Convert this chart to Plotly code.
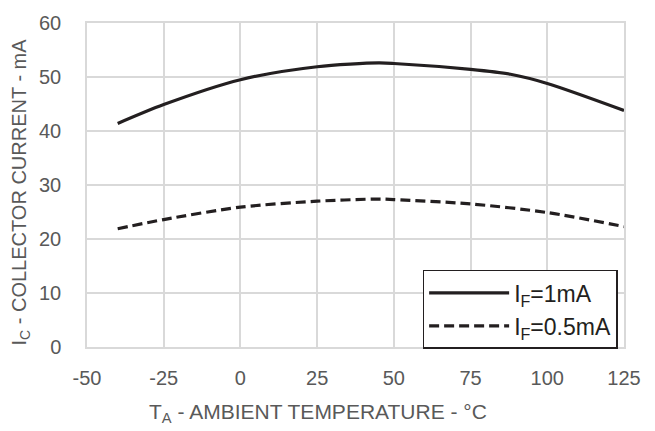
import plotly.graph_objects as go

temp_1mA = [-40, -25, 0, 25, 45, 50, 75, 88, 100, 125]
ic_1mA = [41.4, 44.9, 49.5, 51.9, 52.6, 52.5, 51.4, 50.5, 48.8, 43.8]

temp_05mA = [-40, -25, 0, 25, 45, 50, 75, 100, 125]
ic_05mA = [21.9, 23.6, 25.9, 27.0, 27.4, 27.3, 26.5, 24.9, 22.3]

x_ticks = [-50, -25, 0, 25, 50, 75, 100, 125]
y_ticks = [0, 10, 20, 30, 40, 50, 60]

x_title = "T<sub>A</sub> - AMBIENT TEMPERATURE - °C"
y_title = "I<sub>C</sub> - COLLECTOR CURRENT - mA"

fig = go.Figure()
fig.add_trace(go.Scatter(x=temp_1mA, y=ic_1mA, mode="lines", name="I<sub>F</sub>=1mA",
                         line=dict(color="#231f20", width=3.2, shape="spline", smoothing=0.8)))
fig.add_trace(go.Scatter(x=temp_05mA, y=ic_05mA, mode="lines", name="I<sub>F</sub>=0.5mA",
                         line=dict(color="#231f20", width=3.2, dash="10px,5px", shape="spline", smoothing=0.8)))

grid = "#d9d9d9"
font_fam = "Liberation Sans, Arial, sans-serif"
fig.update_layout(
    width=655, height=431,
    margin=dict(l=87, r=31, t=23, b=84),
    paper_bgcolor="white", plot_bgcolor="white",
    font=dict(family=font_fam, color="#595959"),
    showlegend=True,
    legend=dict(x=0.625, y=-0.006, xanchor="left", yanchor="bottom",
                bordercolor="#231f20", borderwidth=1.5, bgcolor="white",
                font=dict(size=23, color="#231f20", family=font_fam),
                itemwidth=80, tracegroupgap=0),
)
fig.update_xaxes(range=[-50, 125], tickvals=x_ticks, ticktext=[str(v) for v in x_ticks],
                 showgrid=True, gridcolor=grid, gridwidth=1.5, zeroline=False,
                 showline=True, linecolor=grid, linewidth=1.5, mirror=True,
                 ticks="", ticklabelstandoff=12, tickfont=dict(size=20, color="#595959"),
                 automargin=False)
fig.update_yaxes(range=[0, 60], tickvals=y_ticks, ticktext=[str(v) for v in y_ticks],
                 showgrid=True, gridcolor=grid, gridwidth=1.5, zeroline=False,
                 showline=True, linecolor=grid, linewidth=1.5, mirror=True,
                 ticks="", ticklabelstandoff=20, tickfont=dict(size=20, color="#595959"),
                 automargin=False)

fig.add_annotation(text=x_title, xref="paper", yref="paper",
                   x=(318 - 87) / 537, y=-(413 - 347) / 325, xanchor="center", yanchor="middle",
                   showarrow=False, font=dict(size=21, color="#595959", family=font_fam))
fig.add_annotation(text=y_title, xref="paper", yref="paper", textangle=-90,
                   x=-(87 - 20) / 537, y=(347 - 192) / 325, xanchor="center", yanchor="middle",
                   showarrow=False, font=dict(size=20, color="#595959", family=font_fam))

fig.write_html("out.html")
